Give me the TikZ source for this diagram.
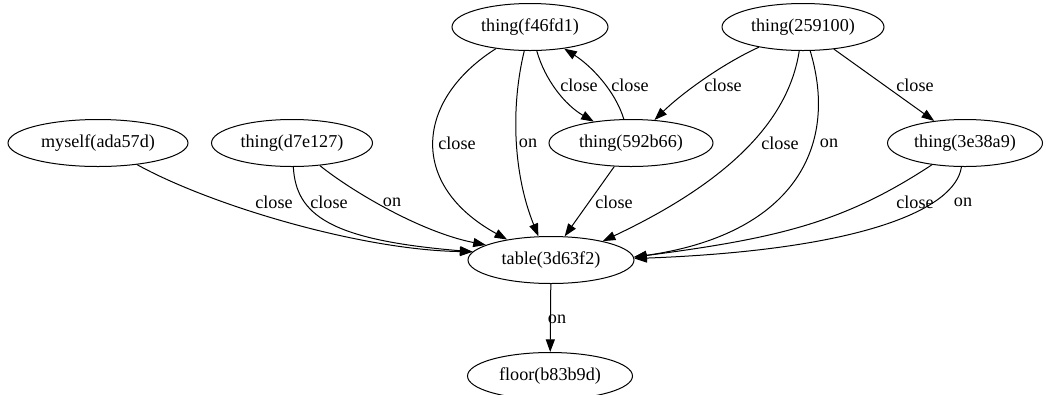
\documentclass[tikz,border=0pt]{standalone}
\usepackage{fontspec}
\setmainfont{Liberation Serif}
\usetikzlibrary{shapes.geometric, arrows.meta}
\tikzset{
  objnode/.style={ellipse, draw, inner sep=0pt, minimum height=35.25pt,
    line width=0.75pt, font=\fontsize{13.6}{16}\selectfont},
  elabel/.style={inner sep=1pt, font=\fontsize{13.6}{16}\selectfont},
  arrow/.style={-{Triangle[length=9.5pt,width=6.8pt]}, line width=0.75pt, color=black}
}

\begin{document}
\begin{tikzpicture}[x=0.75pt, y=-0.75pt]
  \useasboundingbox (0,0) rectangle (1046,394);

  % Objects
  \node[objnode, minimum width=117pt] (f46fd1) at (530,27) {thing(f46fd1)};
  \node[objnode, minimum width=121.5pt] (t259) at (803,27) {thing(259100)};
  \node[objnode, minimum width=135pt] (myself) at (98,143) {myself(ada57d)};
  \node[objnode, minimum width=120.75pt] (d7e) at (292,143) {thing(d7e127)};
  \node[objnode, minimum width=123pt] (b66) at (631,143) {thing(592b66)};
  \node[objnode, minimum width=116.25pt] (t3e3) at (965,143) {thing(3e38a9)};
  \node[objnode, minimum width=124.5pt] (table) at (551,260) {table(3d63f2)};
  \node[objnode, minimum width=123.75pt] (floor) at (550,376) {floor(b83b9d)};

  % Relations into the table
  \draw[arrow] (myself) .. controls (210,205) and (360,250) .. (table.174);
  \draw[arrow] (d7e) .. controls (296,215) and (330,240) .. (table.174);
  \draw[arrow] (d7e) .. controls (350,190) and (420,232) .. (table.167);
  \draw[arrow] (f46fd1) .. controls (415,100) and (408,185) .. (table.155);
  \draw[arrow] (f46fd1) .. controls (510,110) and (514,176) .. (table.118);
  \draw[arrow] (b66) -- (table.60);
  \draw[arrow] (t259) .. controls (790,110) and (745,174) .. (table.20);
  \draw[arrow] (t259) .. controls (840,150) and (790,235) .. (table.2);
  \draw[arrow] (t3e3) .. controls (845,222) and (780,238) .. (table.2);
  \draw[arrow] (t3e3) .. controls (955,210) and (860,250) .. (table.1);

  % Relations between things
  \draw[arrow] (f46fd1) .. controls (545,80) and (565,105) .. (b66);
  \draw[arrow] (b66) .. controls (615,90) and (590,65) .. (f46fd1);
  \draw[arrow] (t259) .. controls (720,65) and (680,95) .. (b66);
  \draw[arrow] (t259) -- (t3e3);
  \draw[arrow] (table) -- (floor);

  % Labels
  \node[elabel] (l1) at (274,202) {close};
  \node[elabel] (l2) at (329,202) {close};
  \node[elabel] (l3) at (392,202) {on};
  \node[elabel] (l4) at (457,143) {close};
  \node[elabel] (l5) at (528,143) {on};
  \node[elabel] (l6) at (579,85) {close};
  \node[elabel] (l7) at (630,85) {close};
  \node[elabel] (l8) at (614,202) {close};
  \node[elabel] (l9) at (723,85) {close};
  \node[elabel] (l10) at (780,143) {close};
  \node[elabel] (l11) at (829,143) {on};
  \node[elabel] (l12) at (915,85) {close};
  \node[elabel] (l13) at (915,202) {close};
  \node[elabel] (l14) at (963,202) {on};
  \node[elabel] (l15) at (557,319) {on};
\end{tikzpicture}
\end{document}
